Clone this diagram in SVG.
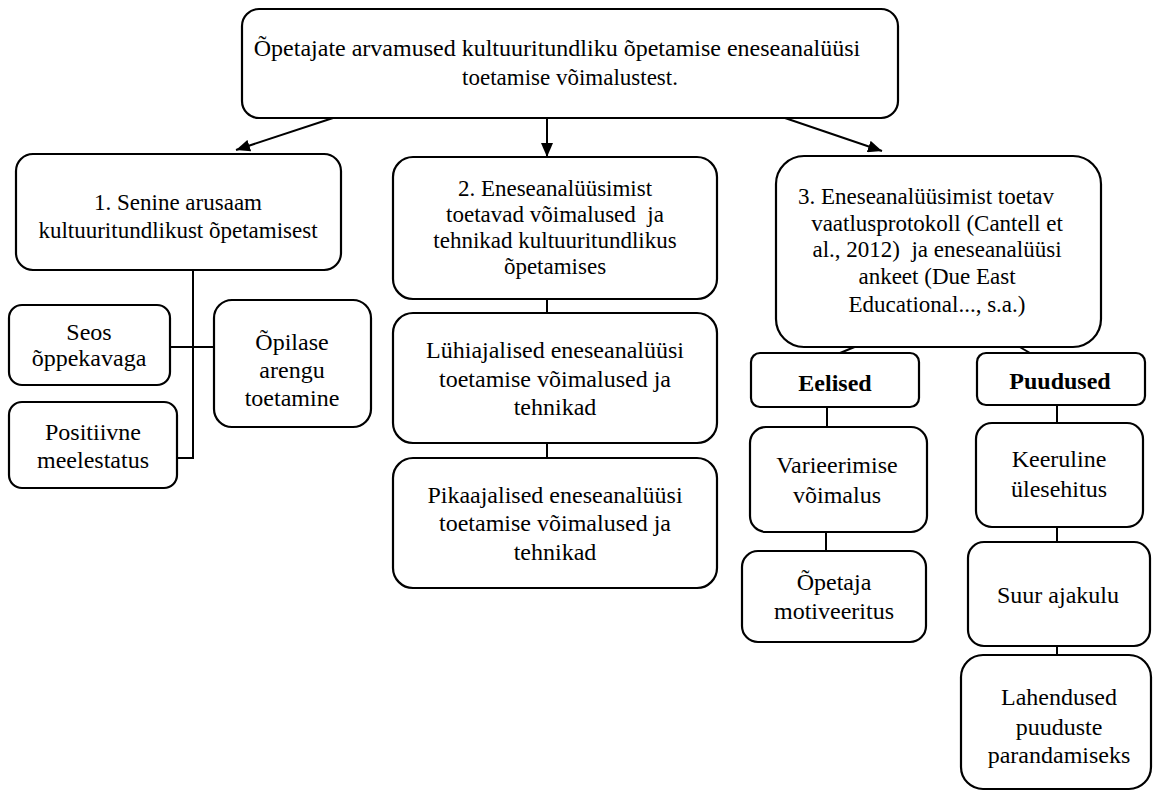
<svg xmlns="http://www.w3.org/2000/svg" width="1154" height="792" viewBox="0 0 1154 792">
<defs>
<style>
.box{fill:#fff;stroke:#000;stroke-width:2.2}
.t{font-family:"Liberation Serif","Times New Roman",serif;font-size:24px;fill:#000;text-anchor:middle}
.h{font-size:23px}
.b{font-weight:bold}
.c{stroke:#000;stroke-width:2;fill:none}
</style>
<marker id="arr" viewBox="0 0 14 12" refX="14" refY="6" markerWidth="14" markerHeight="12" markerUnits="userSpaceOnUse" orient="auto">
<path d="M0,0 L14,6 L0,12 z" fill="#000"/>
</marker>
</defs>
<rect width="1154" height="792" fill="#fff"/>
<g id="connectors">
<line class="c" x1="333" y1="118" x2="236" y2="150" marker-end="url(#arr)"/>
<line class="c" x1="547" y1="118" x2="547" y2="157" marker-end="url(#arr)"/>
<line class="c" x1="785" y1="118" x2="882" y2="151" marker-end="url(#arr)"/>
<polyline class="c" points="193,270 193,458 177,458"/>
<line class="c" x1="170" y1="347" x2="214" y2="347"/>
<line class="c" x1="547" y1="299" x2="547" y2="313"/>
<line class="c" x1="547" y1="443" x2="547" y2="458"/>
<line class="c" x1="857" y1="346" x2="840" y2="353"/>
<line class="c" x1="1018" y1="346" x2="1030" y2="353"/>
<line class="c" x1="827" y1="407" x2="827" y2="427"/>
<line class="c" x1="826" y1="532" x2="826" y2="551"/>
<line class="c" x1="1057" y1="405" x2="1057" y2="423"/>
<line class="c" x1="1057" y1="527" x2="1057" y2="542"/>
<line class="c" x1="1057" y1="646" x2="1057" y2="655"/>
</g>
<g id="root">
<rect class="box" x="242" y="9" width="656" height="109" rx="17"/>
<text class="t" x="557" y="56">Õpetajate arvamused kultuuritundliku õpetamise eneseanalüüsi</text>
<text class="t h" x="570" y="85">toetamise võimalustest.</text>
</g>
<g id="n1">
<rect class="box" x="16" y="154" width="325" height="116" rx="17"/>
<text class="t h" x="178" y="210">1. Senine arusaam</text>
<text class="t h" x="178" y="238">kultuuritundlikust õpetamisest</text>
</g>
<g id="n1a">
<rect class="box" x="9" y="305" width="161" height="80" rx="13"/>
<text class="t" x="89" y="340">Seos</text>
<text class="t" x="89" y="366">õppekavaga</text>
</g>
<g id="n1b">
<rect class="box" x="9" y="402" width="168" height="86" rx="13"/>
<text class="t" x="93" y="440">Positiivne</text>
<text class="t" x="93" y="468">meelestatus</text>
</g>
<g id="n1c">
<rect class="box" x="214" y="300" width="157" height="127" rx="18"/>
<text class="t" x="292" y="350">Õpilase</text>
<text class="t" x="292" y="378">arengu</text>
<text class="t" x="292" y="406">toetamine</text>
</g>
<g id="n2">
<rect class="box" x="393" y="157" width="324" height="142" rx="20"/>
<text class="t h" x="555" y="196">2. Eneseanalüüsimist</text>
<text class="t h" x="555" y="222" xml:space="preserve">toetavad võimalused  ja</text>
<text class="t h" x="555" y="248">tehnikad kultuuritundlikus</text>
<text class="t h" x="555" y="274">õpetamises</text>
</g>
<g id="n2a">
<rect class="box" x="393" y="313" width="324" height="130" rx="20"/>
<text class="t" x="555" y="358">Lühiajalised eneseanalüüsi</text>
<text class="t" x="555" y="387">toetamise võimalused ja</text>
<text class="t" x="555" y="415">tehnikad</text>
</g>
<g id="n2b">
<rect class="box" x="393" y="458" width="324" height="130" rx="20"/>
<text class="t" x="555" y="503">Pikaajalised eneseanalüüsi</text>
<text class="t" x="555" y="531">toetamise võimalused ja</text>
<text class="t" x="555" y="560">tehnikad</text>
</g>
<g id="n3">
<rect class="box" x="776" y="156" width="325" height="191" rx="28"/>
<text class="t h" x="926" y="204">3. Eneseanalüüsimist toetav</text>
<text class="t h" x="937" y="231">vaatlusprotokoll (Cantell et</text>
<text class="t h" x="937" y="257" xml:space="preserve">al., 2012)  ja eneseanalüüsi</text>
<text class="t h" x="937" y="284">ankeet (Due East</text>
<text class="t h" x="937" y="312">Educational..., s.a.)</text>
</g>
<g id="eelised">
<rect class="box" x="751" y="353" width="168" height="54" rx="9"/>
<text class="t b" x="835" y="391">Eelised</text>
</g>
<g id="puudused">
<rect class="box" x="977" y="353" width="168" height="52" rx="9"/>
<text class="t b" x="1060" y="389">Puudused</text>
</g>
<g id="e1">
<rect class="box" x="750" y="427" width="177" height="105" rx="16"/>
<text class="t" x="837" y="473">Varieerimise</text>
<text class="t" x="837" y="503">võimalus</text>
</g>
<g id="e2">
<rect class="box" x="742" y="551" width="184" height="91" rx="16"/>
<text class="t" x="834" y="590">Õpetaja</text>
<text class="t" x="834" y="619">motiveeritus</text>
</g>
<g id="p1">
<rect class="box" x="976" y="423" width="167" height="104" rx="16"/>
<text class="t" x="1059" y="467">Keeruline</text>
<text class="t" x="1059" y="497">ülesehitus</text>
</g>
<g id="p2">
<rect class="box" x="968" y="542" width="182" height="104" rx="16"/>
<text class="t" x="1058" y="603">Suur ajakulu</text>
</g>
<g id="p3">
<rect class="box" x="961" y="655" width="190" height="134" rx="22"/>
<text class="t" x="1059" y="705">Lahendused</text>
<text class="t" x="1059" y="735">puuduste</text>
<text class="t" x="1059" y="763">parandamiseks</text>
</g>
</svg>
